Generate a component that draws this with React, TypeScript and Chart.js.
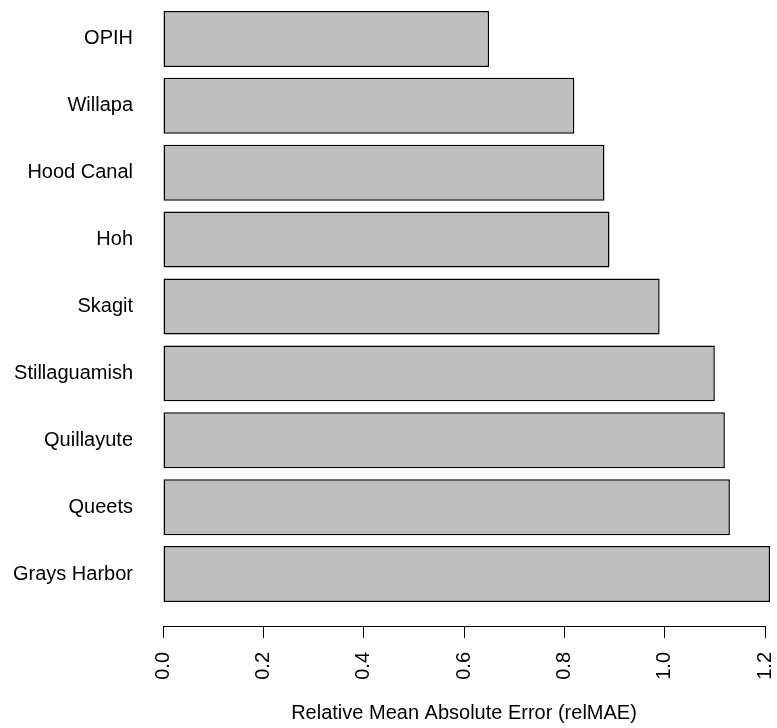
import React, { useEffect, useRef } from "react";
import { Chart, registerables } from "chart.js";

Chart.register(...registerables);

const categories: string[] = [
  "OPIH",
  "Willapa",
  "Hood Canal",
  "Hoh",
  "Skagit",
  "Stillaguamish",
  "Quillayute",
  "Queets",
  "Grays Harbor",
];
const relMAE: number[] = [0.65, 0.82, 0.88, 0.89, 0.99, 1.1, 1.12, 1.13, 1.21];
const xTicks: number[] = [0, 0.2, 0.4, 0.6, 0.8, 1.0, 1.2];
const xTitle = "Relative Mean Absolute Error (relMAE)";

const FONT = "'Liberation Sans', Arial, Helvetica, sans-serif";

export default function App() {
  const ref = useRef<HTMLCanvasElement | null>(null);

  useEffect(() => {
    if (!ref.current) return;
    const chart = new Chart(ref.current, {
      type: "bar",
      data: {
        datasets: [
          {
            data: relMAE.map((v, i) => ({ x: v, y: i })),
            backgroundColor: "#BEBEBE",
            borderColor: "#000",
            borderWidth: 1.5,
            borderSkipped: false,
            barPercentage: 1,
            categoryPercentage: 0.837,
            clip: false as any,
          } as any,
        ],
      },
      options: {
        indexAxis: "y",
        animation: false,
        responsive: true,
        maintainAspectRatio: false,
        layout: { padding: { top: 5.5, right: 12, bottom: 0, left: 0 } },
        plugins: {
          legend: { display: false },
          tooltip: { enabled: false },
          title: { display: false },
        },
        scales: {
          y: {
            type: "linear",
            reverse: true,
            offset: false,
            min: -0.5,
            max: 8.777,
            afterFit: (scale: any) => {
              scale.width = 163;
              scale.paddingTop = 0;
              scale.paddingBottom = 0;
            },
            afterBuildTicks: (scale: any) => {
              scale.ticks = categories.map((_, i) => ({ value: i }));
            },
            ticks: {
              autoSkip: false,
              padding: 30,
              color: "#000",
              font: { family: FONT, size: 20 },
              callback: (v: any) => categories[Number(v)] ?? "",
            },
            grid: { display: false, drawTicks: false },
            border: { display: false },
          },
          x: {
            type: "linear",
            min: 0,
            max: 1.2,
            afterFit: (scale: any) => {
              scale.height = 102;
              scale.paddingLeft = 0;
              scale.paddingRight = 0;
              scale.paddingTop = 0;
              scale.paddingBottom = 0;
            },
            afterBuildTicks: (scale: any) => {
              scale.ticks = xTicks.map((v) => ({ value: v }));
            },
            ticks: {
              autoSkip: false,
              minRotation: 90,
              maxRotation: 90,
              padding: 14,
              color: "#000",
              font: { family: FONT, size: 20 },
              callback: (v: any) => Number(v).toFixed(1),
            },
            grid: {
              display: true,
              drawOnChartArea: false,
              drawTicks: true,
              tickLength: 12,
              color: "#000",
              lineWidth: 1,
            },
            border: { display: true, color: "#000", width: 1 },
            title: {
              display: true,
              text: xTitle,
              color: "#000",
              font: { family: FONT, size: 20 },
              padding: { top: 0, bottom: 3 },
            },
          },
        },
      },
    });
    return () => chart.destroy();
  }, []);

  return (
    <div
      style={{
        position: "absolute",
        left: 0,
        top: 0,
        width: 777,
        height: 728,
        background: "#fff",
      }}
    >
      <canvas ref={ref} />
    </div>
  );
}
